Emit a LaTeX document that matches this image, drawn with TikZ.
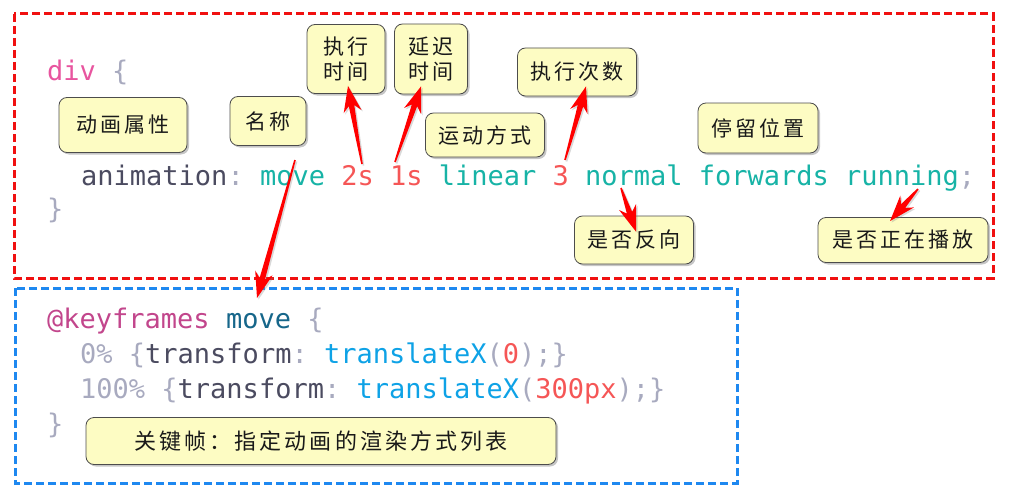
\documentclass[tikz,border=0pt]{standalone}
\usepackage{fontspec}
\setmonofont{DejaVu Sans Mono}
\newfontfamily\cjk{Noto Sans CJK SC}
\usetikzlibrary{calc,shadows}
\definecolor{divpink}{HTML}{E8559F}
\definecolor{bracegray}{HTML}{A8AABF}
\definecolor{propdark}{HTML}{4B4B60}
\definecolor{valteal}{HTML}{17B3A6}
\definecolor{numred}{HTML}{F55656}
\definecolor{atpink}{HTML}{C2468C}
\definecolor{kfblue}{HTML}{16668A}
\definecolor{fnblue}{HTML}{0EA2E6}
\definecolor{noteyellow}{HTML}{FDFCC3}
\definecolor{framered}{HTML}{F01010}
\definecolor{frameblue}{HTML}{1E88F0}
\newcommand\tok[2]{\textcolor{#1}{#2}}
\tikzset{
  code/.style={anchor=base west,inner sep=0pt,font=\ttfamily\fontsize{27}{32}\selectfont},
  note/.style={draw=black!70,line width=0.8pt,fill=noteyellow,rounded corners=8pt,
    text=black!90,align=center,inner sep=0pt,
    font=\cjk\fontsize{21}{25}\selectfont\addfontfeature{LetterSpace=14},
    drop shadow={shadow xshift=2pt,shadow yshift=-2pt,opacity=0.45}},
  frame/.style={line width=3pt,dash pattern=on 8pt off 4pt},
  pointer/.style={fill=red,drop shadow={shadow xshift=1.5pt,shadow yshift=-1.5pt,opacity=0.3},
    to path={let \p1=(\tikztostart),\p2=(\tikztotarget),
      \p3=($(\p2)!20pt!(\p1)$),\p4=($(\p2)!26pt!(\p1)$) in
      ($(\p1)!0.8pt!90:(\p2)$) -- ($(\p3)!2.8pt!90:(\p2)$) -- ($(\p4)!9pt!90:(\p2)$)
      -- (\p2) -- ($(\p4)!9pt!-90:(\p2)$) -- ($(\p3)!2.8pt!-90:(\p2)$)
      -- ($(\p1)!0.8pt!-90:(\p2)$) -- cycle}},
}
\begin{document}
\begin{tikzpicture}[x=1pt,y=-1pt]
  \useasboundingbox (0,0) rectangle (1022,487);
  % frames
  \draw[framered,frame] (14,14) rectangle (993,278);
  \draw[frameblue,frame] (15,288) rectangle (737,483);
  % code
  \node[code] (divl) at (47,80) {\tok{divpink}{div} \tok{bracegray}{\{}};
  \node[code] (anim) at (81,185) {\tok{propdark}{animation}\tok{bracegray}{:} \tok{valteal}{move} \tok{numred}{2s} \tok{numred}{1s} \tok{valteal}{linear} \tok{numred}{3} \tok{valteal}{normal forwards running}\tok{bracegray}{;}};
  \node[code] (divr) at (47,218) {\tok{bracegray}{\}}};
  \node[code] (kfl) at (47,328) {\tok{atpink}{@keyframes} \tok{kfblue}{move} \tok{bracegray}{\{}};
  \node[code] (kf0) at (80,363) {\tok{bracegray}{0\% \{}\tok{propdark}{transform}\tok{bracegray}{:} \tok{fnblue}{translateX}\tok{bracegray}{(}\tok{numred}{0}\tok{bracegray}{);\}}};
  \node[code] (kf100) at (80,398) {\tok{bracegray}{100\% \{}\tok{propdark}{transform}\tok{bracegray}{:} \tok{fnblue}{translateX}\tok{bracegray}{(}\tok{numred}{300px}\tok{bracegray}{);\}}};
  \node[code] (kfr) at (47,433) {\tok{bracegray}{\}}};
  % notes
  \node[note,minimum width=128pt,minimum height=55pt] (attr) at (123,125) {动画属性};
  \node[note,minimum width=76pt,minimum height=49pt] (name) at (268,121) {名称};
  \node[note,minimum width=78pt,minimum height=69pt] (dur) at (346,59) {执行\\时间};
  \node[note,minimum width=73pt,minimum height=70pt] (delay) at (431,59) {延迟\\时间};
  \node[note,minimum width=119pt,minimum height=44pt] (timing) at (485,135) {运动方式};
  \node[note,minimum width=119pt,minimum height=48pt] (count) at (577,72) {执行次数};
  \node[note,minimum width=120pt,minimum height=50pt] (fillmode) at (758,128) {停留位置};
  \node[note,minimum width=119pt,minimum height=48pt] (dir) at (634,240) {是否反向};
  \node[note,minimum width=170pt,minimum height=45pt] (state) at (903,240) {是否正在播放};
  \node[note,minimum width=470pt,minimum height=47pt,font=\cjk\fontsize{22}{25}\selectfont\addfontfeature{LetterSpace=14}] (kf) at (321,441) {关键帧：指定动画的渲染方式列表};
  % pointers
  \coordinate (moveT) at (295,160);
  \coordinate (kfT) at (257,298);
  \coordinate (twoT) at (362,164);
  \coordinate (oneT) at (395,162);
  \coordinate (threeT) at (565,160);
  \coordinate (normalT) at (621,188);
  \coordinate (runT) at (918,189);
  \path[pointer] (moveT) to (kfT);
  \path[pointer] (twoT) to ($(dur.south)+(2,-8)$);
  \path[pointer] (oneT) to ($(delay.south)+(-10,-8)$);
  \path[pointer] (threeT) to ($(count.south)+(9,-10)$);
  \path[pointer] (normalT) to ($(dir.north)+(2,16)$);
  \path[pointer] (runT) to ($(state.north)+(-13,4)$);
\end{tikzpicture}
\end{document}
